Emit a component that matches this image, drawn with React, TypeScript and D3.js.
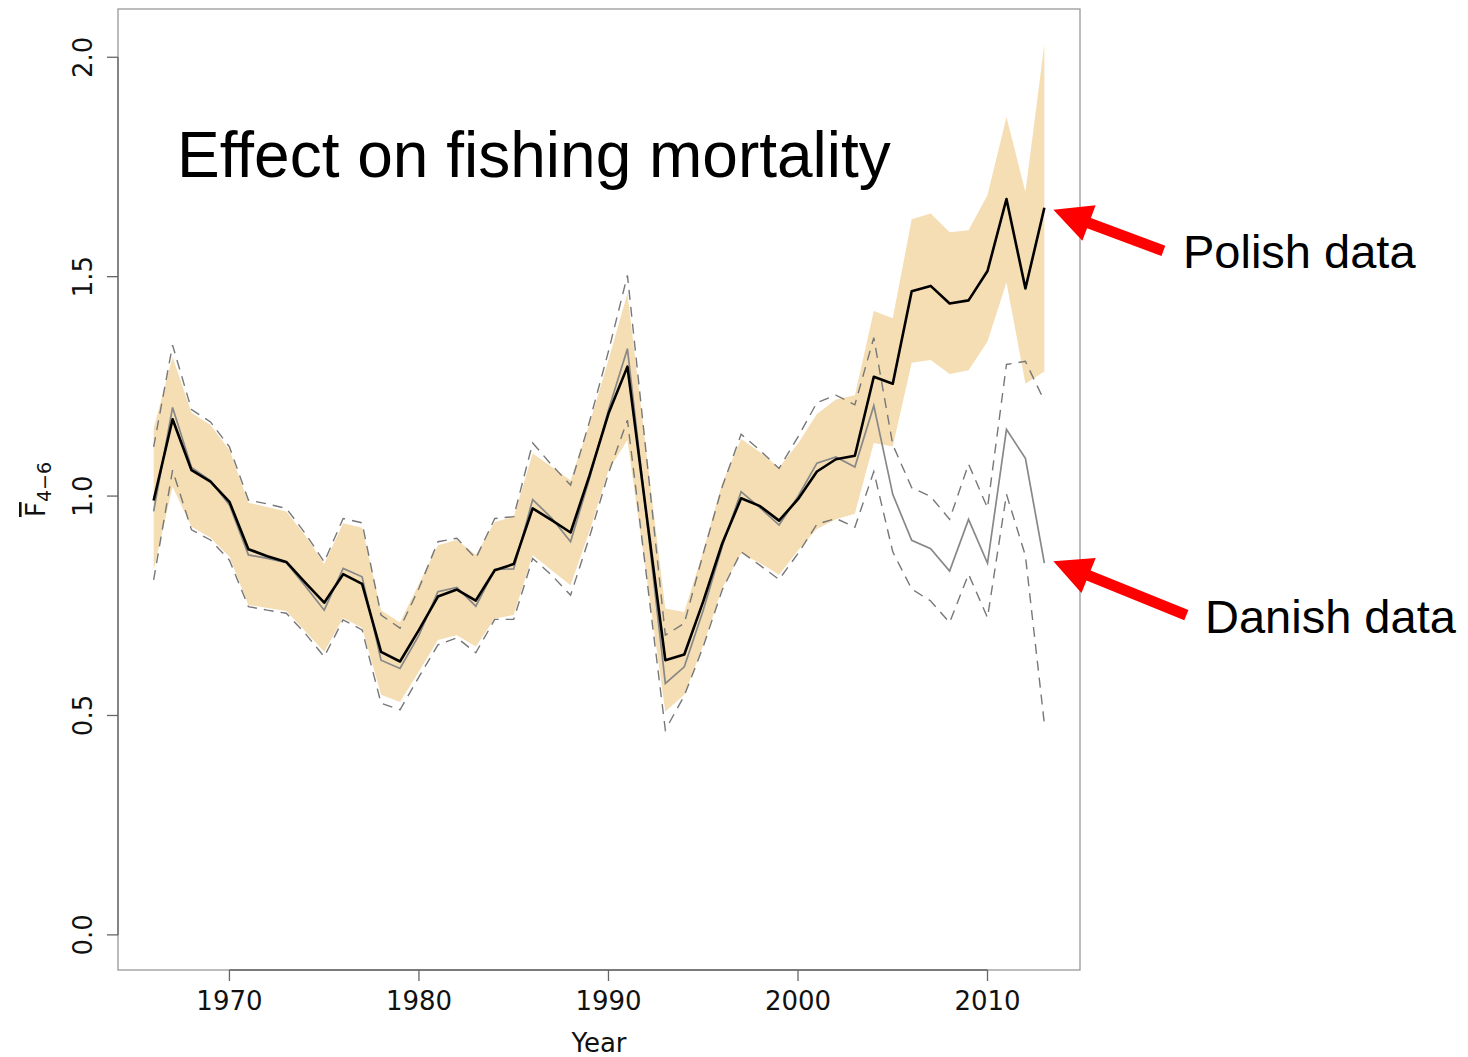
import React, { useMemo } from 'react';
import * as d3 from 'd3';

const WIDTH = 1468;
const HEIGHT = 1057;

// plot box (R style, 4% axis extension)
const box = { l: 118, r: 1080, t: 9, b: 970 };

const years = d3.range(1966, 2014);

// Polish data: mean F and confidence band
const polishMean = [
  0.99, 1.175, 1.059, 1.033, 0.987, 0.879, 0.863, 0.85, 0.803, 0.757, 0.822, 0.8,
  0.645, 0.623, 0.695, 0.771, 0.787, 0.762, 0.831, 0.845, 0.972, 0.945, 0.917, 1.047,
  1.188, 1.295, 0.96, 0.626, 0.639, 0.76, 0.892, 0.995, 0.977, 0.944, 0.993, 1.056,
  1.084, 1.092, 1.272, 1.256, 1.467, 1.479, 1.439, 1.446, 1.513, 1.677, 1.473, 1.657,
];
const polishLower = [
  0.831, 1.021, 0.93, 0.905, 0.862, 0.752, 0.745, 0.738, 0.692, 0.645, 0.722, 0.7,
  0.547, 0.531, 0.6, 0.672, 0.683, 0.657, 0.721, 0.729, 0.866, 0.831, 0.797, 0.92,
  1.059, 1.128, 0.818, 0.509, 0.547, 0.66, 0.79, 0.869, 0.847, 0.821, 0.876, 0.925,
  0.947, 0.96, 1.121, 1.113, 1.304, 1.31, 1.278, 1.287, 1.352, 1.487, 1.256, 1.284,
];
const polishUpper = [
  1.154, 1.317, 1.19, 1.162, 1.105, 0.985, 0.975, 0.965, 0.91, 0.845, 0.938, 0.928,
  0.74, 0.712, 0.8, 0.888, 0.9, 0.866, 0.941, 0.953, 1.097, 1.067, 1.036, 1.165,
  1.31, 1.462, 1.1, 0.744, 0.736, 0.875, 1.03, 1.13, 1.1, 1.065, 1.12, 1.187,
  1.22, 1.23, 1.422, 1.405, 1.631, 1.644, 1.601, 1.606, 1.686, 1.864, 1.693, 2.03,
];

// Danish data: mean F and confidence limits (dashed)
const danishMean = [
  0.965, 1.202, 1.065, 1.035, 0.98, 0.866, 0.858, 0.848, 0.795, 0.74, 0.835, 0.816,
  0.626, 0.607, 0.683, 0.782, 0.792, 0.749, 0.833, 0.834, 0.992, 0.95, 0.896, 1.04,
  1.196, 1.336, 0.955, 0.573, 0.611, 0.74, 0.885, 1.01, 0.973, 0.934, 0.999, 1.075,
  1.089, 1.066, 1.206, 1.004, 0.899, 0.88, 0.829, 0.947, 0.847, 1.152, 1.086, 0.847,
];
const danishLower = [
  0.809, 1.059, 0.923, 0.9, 0.854, 0.748, 0.74, 0.733, 0.687, 0.634, 0.718, 0.695,
  0.528, 0.513, 0.588, 0.661, 0.677, 0.643, 0.719, 0.719, 0.858, 0.82, 0.774, 0.907,
  1.052, 1.173, 0.82, 0.467, 0.545, 0.657, 0.786, 0.873, 0.842, 0.81, 0.869, 0.936,
  0.949, 0.929, 1.056, 0.873, 0.788, 0.761, 0.712, 0.822, 0.723, 1.004, 0.864, 0.481,
];
const danishUpper = [
  1.112, 1.344, 1.197, 1.169, 1.112, 0.991, 0.982, 0.972, 0.915, 0.85, 0.949, 0.939,
  0.729, 0.699, 0.79, 0.896, 0.904, 0.858, 0.949, 0.953, 1.121, 1.071, 1.025, 1.17,
  1.33, 1.503, 1.093, 0.683, 0.71, 0.869, 1.021, 1.141, 1.104, 1.063, 1.135, 1.213,
  1.23, 1.208, 1.361, 1.117, 1.019, 0.999, 0.947, 1.073, 0.973, 1.3, 1.307, 1.217,
];

const xTicks = [1970, 1980, 1990, 2000, 2010];
const yTicks = [0, 0.5, 1, 1.5, 2];

const title = 'Effect on fishing mortality';
const polishLabel = 'Polish data';
const danishLabel = 'Danish data';

const axisFont = '"DejaVu Sans", sans-serif';
const textFont = '"Liberation Sans", Arial, sans-serif';

// red block arrow pointing from tail to tip
const arrowPath = (tip: [number, number], tail: [number, number]) => {
  const dx = tail[0] - tip[0];
  const dy = tail[1] - tip[1];
  const len = Math.sqrt(dx * dx + dy * dy);
  const ux = dx / len;
  const uy = dy / len;
  const nx = -uy;
  const ny = ux;
  const headLen = 38;
  const headW = 19;
  const shaftW = 5.5;
  const bx = tip[0] + ux * headLen;
  const by = tip[1] + uy * headLen;
  const pts: [number, number][] = [
    tip,
    [bx + nx * headW, by + ny * headW],
    [bx + nx * shaftW, by + ny * shaftW],
    [tail[0] + nx * shaftW, tail[1] + ny * shaftW],
    [tail[0] - nx * shaftW, tail[1] - ny * shaftW],
    [bx - nx * shaftW, by - ny * shaftW],
    [bx - nx * headW, by - ny * headW],
  ];
  return `M${pts.map((p) => p.join(',')).join('L')}Z`;
};

const App = () => {
  const xScale = useMemo(
    () => d3.scaleLinear().domain([1964.12, 2014.88]).range([box.l, box.r]),
    []
  );
  const yScale = useMemo(() => d3.scaleLinear().domain([-0.08, 2.11]).range([box.b, box.t]), []);

  const line = (vals: number[]) =>
    d3
      .line<number>()
      .x((_, i) => xScale(years[i]))
      .y((d) => yScale(d))(vals) || '';

  const band =
    d3
      .area<number>()
      .x((_, i) => xScale(years[i]))
      .y0((_, i) => yScale(polishLower[i]))
      .y1((d) => yScale(d))(polishUpper) || '';

  const last = years.length - 1;
  const polishTip: [number, number] = [xScale(years[last]) + 9, yScale(polishMean[last]) + 2];
  const danishTip: [number, number] = [xScale(years[last]) + 9, yScale(danishMean[last]) - 2];

  const yMid = (box.t + box.b) / 2;

  return (
    <svg
      width={WIDTH}
      height={HEIGHT}
      viewBox={`0 0 ${WIDTH} ${HEIGHT}`}
      style={{ position: 'absolute', left: 0, top: 0, background: '#fff' }}
    >
      {/* confidence band, Polish */}
      <path d={band} fill="#f5deb3" stroke="none" />

      {/* Danish limits */}
      <path d={line(danishUpper)} fill="none" stroke="#777" strokeWidth={1.4} strokeDasharray="10,7" />
      <path d={line(danishLower)} fill="none" stroke="#777" strokeWidth={1.4} strokeDasharray="10,7" />
      <path d={line(danishMean)} fill="none" stroke="#888" strokeWidth={1.7} />

      {/* Polish mean */}
      <path d={line(polishMean)} fill="none" stroke="#000" strokeWidth={2.6} strokeLinejoin="round" />

      {/* plot box */}
      <rect
        x={box.l}
        y={box.t}
        width={box.r - box.l}
        height={box.b - box.t}
        fill="none"
        stroke="#999"
        strokeWidth={1.3}
      />

      {/* x axis */}
      <line
        x1={xScale(xTicks[0])}
        x2={xScale(xTicks[xTicks.length - 1])}
        y1={box.b}
        y2={box.b}
        stroke="#666"
        strokeWidth={1.3}
      />
      {xTicks.map((t) => (
        <g key={`x-${t}`} transform={`translate(${xScale(t)},${box.b})`}>
          <line y1={0} y2={11} stroke="#666" strokeWidth={1.3} />
          <text y={40} textAnchor="middle" fontFamily={axisFont} fontSize={26} fill="#111">
            {t}
          </text>
        </g>
      ))}
      <text
        x={(box.l + box.r) / 2}
        y={1052}
        textAnchor="middle"
        fontFamily={axisFont}
        fontSize={26}
        fill="#111"
      >
        Year
      </text>

      {/* y axis */}
      <line
        x1={box.l}
        x2={box.l}
        y1={yScale(yTicks[0])}
        y2={yScale(yTicks[yTicks.length - 1])}
        stroke="#666"
        strokeWidth={1.3}
      />
      {yTicks.map((t) => (
        <g key={`y-${t}`} transform={`translate(${box.l},${yScale(t)})`}>
          <line x1={0} x2={-11} stroke="#666" strokeWidth={1.3} />
          <text
            transform="translate(-26,0) rotate(-90)"
            textAnchor="middle"
            fontFamily={axisFont}
            fontSize={26}
            fill="#111"
          >
            {t.toFixed(1)}
          </text>
        </g>
      ))}
      <text
        transform={`translate(45,${yMid}) rotate(-90)`}
        textAnchor="middle"
        fontFamily={axisFont}
        fontSize={26}
        fill="#111"
      >
        <tspan textDecoration="overline">F</tspan>
        <tspan fontSize={19} dy={6}>
          4−6
        </tspan>
      </text>

      {/* annotations */}
      <text x={177} y={177} fontFamily={textFont} fontSize={64} fill="#000">
        {title}
      </text>
      <path d={arrowPath(polishTip, [polishTip[0] + 110, polishTip[1] + 41])} fill="#ff0000" />
      <path d={arrowPath(danishTip, [danishTip[0] + 133, danishTip[1] + 54])} fill="#ff0000" />
      <text x={1183} y={268} fontFamily={textFont} fontSize={47} fill="#000">
        {polishLabel}
      </text>
      <text x={1205} y={633} fontFamily={textFont} fontSize={47} fill="#000">
        {danishLabel}
      </text>
    </svg>
  );
};

export default App;
